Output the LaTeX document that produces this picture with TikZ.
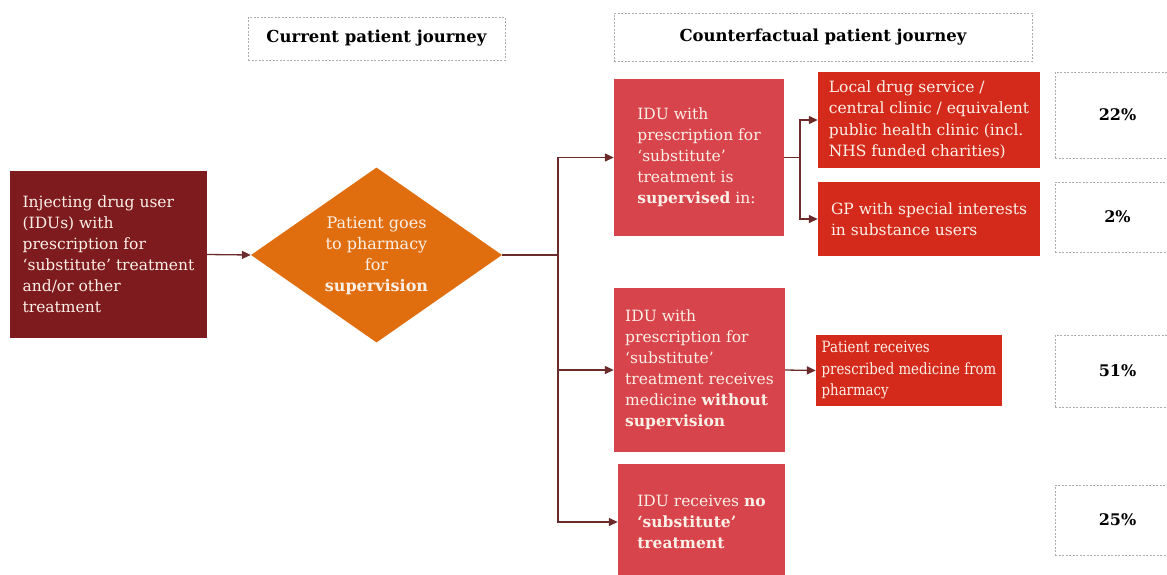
\documentclass[tikz,border=0pt]{standalone}
\usepackage{fontspec}
\setmainfont{DejaVu Serif}
\newfontfamily\narrowserif{DejaVu Serif}[FakeStretch=0.86]
\usetikzlibrary{shapes.geometric,arrows.meta}

\definecolor{maroon}{HTML}{7E1B1E}
\definecolor{pharmorange}{HTML}{E06E0E}
\definecolor{rosered}{HTML}{D8444B}
\definecolor{brightred}{HTML}{D42A1B}
\definecolor{linkcol}{HTML}{6B2B2B}
\definecolor{boxtext}{HTML}{FBF0E8}

\tikzset{
  filled/.style={rectangle, inner sep=0pt, align=left, text=boxtext,
    font=\fontsize{15.5}{21}\selectfont},
  startbox/.style={filled, fill=maroon},
  optionbox/.style={filled, fill=rosered},
  placebox/.style={filled, fill=brightred, font=\fontsize{15.5}{21.5}\selectfont},
  headbox/.style={rectangle, draw=gray!65, dash pattern=on 2pt off 1.5pt,
    line width=0.8pt, font=\bfseries\fontsize{16.5}{19}\selectfont},
  sharebox/.style={rectangle, draw=gray!65, dash pattern=on 2pt off 1.5pt,
    line width=0.8pt, font=\bfseries\fontsize{16}{19}\selectfont},
  link/.style={draw=linkcol, line width=1.3pt},
  linkarrow/.style={link, -{Triangle[length=9pt,width=8pt]}},
}

\begin{document}
\begin{tikzpicture}[x=1pt,y=-1pt]
\clip (0,0) rectangle (1167,574);
\fill[white] (0,0) rectangle (1167,574);

% column headings
\node[headbox, minimum width=257pt, minimum height=43pt] (h1) at (376.5,38.5) {Current patient journey};
\node[headbox, minimum width=418pt, minimum height=48pt] (h2) at (823,37) {Counterfactual patient journey};

% current journey
\node[startbox, minimum width=197pt, minimum height=167pt] (start) at (108.5,254.5)
  {Injecting drug user\\(IDUs) with\\prescription for\\`substitute' treatment\\and/or other\\treatment};
\node[diamond, fill=pharmorange, inner sep=0pt, minimum width=251pt, minimum height=175pt] (pharm) at (376.5,255) {};
\node[align=center, text=boxtext, font=\fontsize{16}{21}\selectfont] (pharmtext) at (376.5,256)
  {Patient goes\\to pharmacy\\for\\\textbf{supervision}};

% counterfactual options
\node[optionbox, minimum width=170pt, minimum height=157pt] (sup) at (699,157.5)
  {IDU with\\prescription for\\`substitute'\\treatment is\\\textbf{supervised} in:};
\node[optionbox, minimum width=171pt, minimum height=164pt] (unsup) at (699.5,370)
  {IDU with\\prescription for\\`substitute'\\treatment receives\\medicine \textbf{without}\\\textbf{supervision}};
\node[optionbox, minimum width=167pt, minimum height=116pt] (none) at (701.5,522)
  {IDU receives \textbf{no}\\\textbf{`substitute'}\\\textbf{treatment}};

% places of treatment
\node[placebox, minimum width=222pt, minimum height=96pt] (clinic) at (929,120)
  {Local drug service /\\central clinic / equivalent\\public health clinic (incl.\\NHS funded charities)};
\node[placebox, minimum width=222pt, minimum height=74pt] (gp) at (929,219)
  {GP with special interests\\in substance users};
\node[placebox, minimum width=186pt, minimum height=71pt, font=\narrowserif\fontsize{15.5}{21.5}\selectfont] (pharmacy) at (909,370.5)
  {Patient receives\\prescribed medicine from\\pharmacy};

% shares
\node[sharebox, minimum width=125pt, minimum height=86pt] (p1) at (1117.5,115) {22\%};
\node[sharebox, minimum width=125pt, minimum height=70pt] (p2) at (1117.5,217) {2\%};
\node[sharebox, minimum width=125pt, minimum height=72pt] (p3) at (1117.5,371) {51\%};
\node[sharebox, minimum width=125pt, minimum height=70pt] (p4) at (1117.5,520) {25\%};

% connectors
\coordinate (trunk) at (558,255);
\coordinate (branch) at (800,157.5);
\draw[linkarrow] (start.east) -- (pharm.west);
\draw[link] (pharm.east) -- (trunk);
\draw[linkarrow] (trunk) |- (sup.west);
\draw[linkarrow] (trunk) |- (unsup.west);
\draw[linkarrow] (trunk) |- (none.west);
\draw[link] (sup.east) -- (branch);
\draw[linkarrow] (branch) |- (clinic.west);
\draw[linkarrow] (branch) |- (gp.west);
\draw[linkarrow] (unsup.east) -- (pharmacy.west);
\end{tikzpicture}
\end{document}
